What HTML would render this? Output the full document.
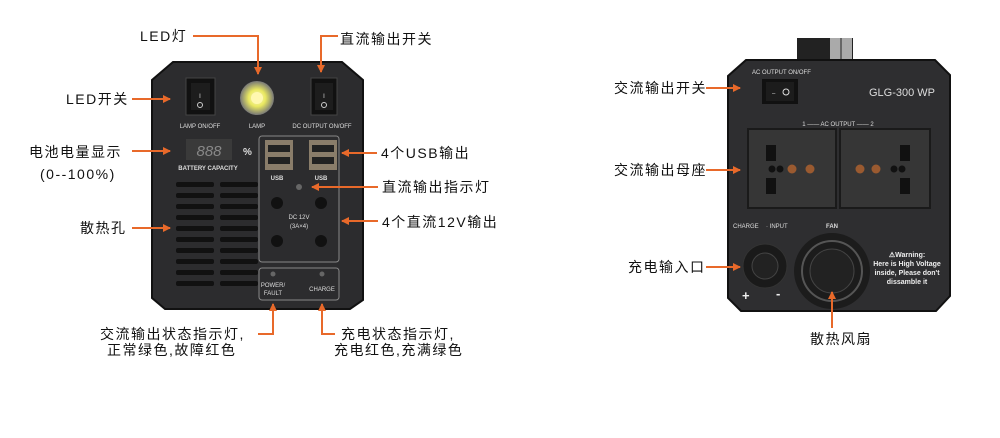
<!DOCTYPE html>
<html><head><meta charset="utf-8"><style>
html,body{margin:0;padding:0;background:#fff;width:1000px;height:438px;overflow:hidden}
svg{display:block}
.cn{font-family:"Liberation Sans","Noto Sans CJK SC",sans-serif;font-size:14px;fill:#111;letter-spacing:1.5px}
.w{font-family:"Liberation Sans",sans-serif;fill:#ddd;font-size:6px}
.ar{stroke:#e8692a;stroke-width:2;fill:none}
</style></head><body>
<svg width="1000" height="438" viewBox="0 0 1000 438" xmlns="http://www.w3.org/2000/svg">
<defs>
<marker id="a" markerWidth="8" markerHeight="8" refX="7" refY="4" orient="auto" markerUnits="userSpaceOnUse"><path d="M0,0 L8,4 L0,8 z" fill="#e8692a"/></marker>
<radialGradient id="lamp"><stop offset="0" stop-color="#fffbd0"/><stop offset="0.5" stop-color="#e9e860"/><stop offset="1" stop-color="#777"/></radialGradient>
</defs>

<!-- LEFT DEVICE -->
<path d="M173,62 L342,62 L363,80 L363,300 L350,309 L165,309 L152,298 L152,80 Z" fill="#2c2c2e" stroke="#111" stroke-width="2"/>
<rect x="186" y="78" width="29" height="37" fill="#111" stroke="#444"/>
<rect x="191" y="83" width="19" height="27" fill="#1d1d1d"/>
<text x="200" y="98" class="w" text-anchor="middle" font-size="7">I</text><circle cx="200" cy="105" r="2.5" fill="none" stroke="#ccc"/>
<circle cx="257" cy="98" r="17" fill="url(#lamp)"/>
<circle cx="257" cy="98" r="6" fill="#fff8b0"/>
<rect x="311" y="78" width="26" height="37" fill="#111" stroke="#444"/>
<rect x="315" y="83" width="18" height="27" fill="#1d1d1d"/>
<text x="324" y="98" class="w" text-anchor="middle" font-size="7">I</text><circle cx="324" cy="105" r="2.5" fill="none" stroke="#ccc"/>
<text x="200" y="128" class="w" text-anchor="middle">LAMP ON/OFF</text>
<text x="257" y="128" class="w" text-anchor="middle">LAMP</text>
<text x="322" y="128" class="w" text-anchor="middle">DC OUTPUT ON/OFF</text>
<rect x="186" y="139" width="46" height="21" fill="#3a3a3a"/>
<text x="209" y="156" font-family="Liberation Sans,sans-serif" font-size="15" fill="#888" text-anchor="middle" font-style="italic">888</text>
<text x="243" y="155" font-family="Liberation Sans,sans-serif" font-size="10" fill="#ddd" font-weight="bold">%</text>
<text x="208" y="170" class="w" text-anchor="middle" font-size="6.5" font-weight="bold">BATTERY CAPACITY</text>
<g fill="#111">
<rect x="176" y="182" width="38" height="5" rx="2"/><rect x="220" y="182" width="38" height="5" rx="2"/>
<rect x="176" y="193" width="38" height="5" rx="2"/><rect x="220" y="193" width="38" height="5" rx="2"/>
<rect x="176" y="204" width="38" height="5" rx="2"/><rect x="220" y="204" width="38" height="5" rx="2"/>
<rect x="176" y="215" width="38" height="5" rx="2"/><rect x="220" y="215" width="38" height="5" rx="2"/>
<rect x="176" y="226" width="38" height="5" rx="2"/><rect x="220" y="226" width="38" height="5" rx="2"/>
<rect x="176" y="237" width="38" height="5" rx="2"/><rect x="220" y="237" width="38" height="5" rx="2"/>
<rect x="176" y="248" width="38" height="5" rx="2"/><rect x="220" y="248" width="38" height="5" rx="2"/>
<rect x="176" y="259" width="38" height="5" rx="2"/><rect x="220" y="259" width="38" height="5" rx="2"/>
<rect x="176" y="270" width="38" height="5" rx="2"/><rect x="220" y="270" width="38" height="5" rx="2"/>
<rect x="176" y="281" width="38" height="5" rx="2"/><rect x="220" y="281" width="38" height="5" rx="2"/>
</g>
<rect x="259" y="136" width="80" height="126" rx="3" fill="none" stroke="#888" stroke-width="1"/>
<rect x="265" y="140" width="28" height="30" fill="#8a7d6a"/><rect x="268" y="145" width="22" height="7" fill="#222"/><rect x="268" y="157" width="22" height="7" fill="#222"/>
<rect x="309" y="140" width="28" height="30" fill="#8a7d6a"/><rect x="312" y="145" width="22" height="7" fill="#222"/><rect x="312" y="157" width="22" height="7" fill="#222"/>
<text x="277" y="180" class="w" text-anchor="middle" font-weight="bold">USB</text>
<text x="321" y="180" class="w" text-anchor="middle" font-weight="bold">USB</text>
<circle cx="299" cy="187" r="3" fill="#666"/>
<g fill="#111"><circle cx="277" cy="203" r="6"/><circle cx="321" cy="203" r="6"/><circle cx="277" cy="241" r="6"/><circle cx="321" cy="241" r="6"/></g>
<text x="299" y="219" class="w" text-anchor="middle">DC 12V</text>
<text x="299" y="228" class="w" text-anchor="middle">(3A×4)</text>
<rect x="259" y="268" width="80" height="32" rx="3" fill="none" stroke="#888"/>
<circle cx="273" cy="274" r="2.5" fill="#666"/><circle cx="322" cy="274" r="2.5" fill="#666"/>
<text x="273" y="287" class="w" text-anchor="middle">POWER/</text><text x="273" y="295" class="w" text-anchor="middle">FAULT</text>
<text x="322" y="291" class="w" text-anchor="middle">CHARGE</text>

<!-- left labels -->
<text x="140" y="41" class="cn">LED灯</text>
<path class="ar" d="M193,36 L258,36 L258,74" marker-end="url(#a)"/>
<text x="340" y="44" class="cn">直流输出开关</text>
<path class="ar" d="M338,36 L321,36 L321,72" marker-end="url(#a)"/>
<text x="66" y="104" class="cn">LED开关</text>
<path class="ar" d="M132,99 L170,99" marker-end="url(#a)"/>
<text x="29" y="157" class="cn">电池电量显示</text>
<text x="40" y="179" class="cn">(0--100%)</text>
<path class="ar" d="M132,151 L170,151" marker-end="url(#a)"/>
<text x="80" y="233" class="cn">散热孔</text>
<path class="ar" d="M132,228 L170,228" marker-end="url(#a)"/>
<text x="381" y="158" class="cn">4个USB输出</text>
<path class="ar" d="M377,153 L342,153" marker-end="url(#a)"/>
<text x="382" y="192" class="cn">直流输出指示灯</text>
<path class="ar" d="M378,187 L312,187" marker-end="url(#a)"/>
<text x="382" y="227" class="cn">4个直流12V输出</text>
<path class="ar" d="M378,221 L342,221" marker-end="url(#a)"/>
<text x="100" y="339" class="cn">交流输出状态指示灯,</text>
<text x="107" y="355" class="cn">正常绿色,故障红色</text>
<path class="ar" d="M258,334 L273,334 L273,304" marker-end="url(#a)"/>
<text x="341" y="339" class="cn">充电状态指示灯,</text>
<text x="334" y="355" class="cn">充电红色,充满绿色</text>
<path class="ar" d="M335,334 L322,334 L322,304" marker-end="url(#a)"/>

<!-- RIGHT DEVICE -->
<rect x="797" y="38" width="56" height="24" fill="#222"/>
<rect x="830" y="38" width="22" height="22" fill="#aaa"/><rect x="840" y="38" width="2" height="22" fill="#666"/>
<path d="M746,60 L935,60 L950,75 L950,296 L936,311 L741,311 L728,298 L728,76 Z" fill="#2e2e30" stroke="#111" stroke-width="2"/>
<text x="752" y="74" class="w" font-size="5.5">AC OUTPUT ON/OFF</text>
<rect x="762" y="79" width="36" height="25" fill="#111"/>
<rect x="766" y="82" width="28" height="19" fill="#1c1c1c"/>
<text x="772" y="95" class="w" font-size="8">–</text><circle cx="786" cy="92" r="3" fill="none" stroke="#ddd"/>
<text x="902" y="96" font-family="Liberation Sans,sans-serif" font-size="11" fill="#ddd" text-anchor="middle">GLG-300 WP</text>
<text x="838" y="126" class="w" text-anchor="middle">1 —— AC OUTPUT —— 2</text>
<rect x="748" y="129" width="88" height="79" fill="#363636" stroke="#1a1a1a" stroke-width="2"/>
<rect x="840" y="129" width="90" height="79" fill="#363636" stroke="#1a1a1a" stroke-width="2"/>
<g fill="#111">
<rect x="766" y="145" width="10" height="16"/><rect x="766" y="178" width="10" height="16"/>
<rect x="900" y="145" width="10" height="16"/><rect x="900" y="178" width="10" height="16"/>
<circle cx="772" cy="169" r="3.5"/><circle cx="780" cy="169" r="3.5"/><circle cx="902" cy="169" r="3.5"/><circle cx="894" cy="169" r="3.5"/>
</g>
<g fill="#9a5a30"><circle cx="792" cy="169" r="4.5"/><circle cx="810" cy="169" r="4.5"/><circle cx="860" cy="169" r="4.5"/><circle cx="876" cy="169" r="4.5"/></g>
<text x="733" y="228" class="w" font-size="5">CHARGE</text><text x="766" y="228" class="w" font-size="5">· INPUT</text>
<circle cx="765" cy="266" r="22" fill="#1a1a1a" stroke="#333"/>
<circle cx="765" cy="266" r="13" fill="#222" stroke="#444"/>
<text x="742" y="300" font-family="Liberation Sans,sans-serif" font-size="13" fill="#eee" font-weight="bold">+</text>
<text x="776" y="298" font-family="Liberation Sans,sans-serif" font-size="13" fill="#eee" font-weight="bold">-</text>
<text x="832" y="228" class="w" text-anchor="middle" font-weight="bold" font-size="7">FAN</text>
<circle cx="832" cy="271" r="38" fill="#1c1c1c"/>
<circle cx="832" cy="271" r="30" fill="none" stroke="#555" stroke-width="2"/>
<circle cx="832" cy="271" r="22" fill="#222" stroke="#444"/>
<g font-family="Liberation Sans,sans-serif" font-size="7" fill="#eee" text-anchor="middle" font-weight="bold">
<text x="907" y="257">⚠Warning:</text><text x="907" y="266">Here is High Voltage</text><text x="907" y="275">inside, Please don't</text><text x="907" y="284">dissamble it</text></g>

<!-- right labels -->
<text x="614" y="93" class="cn">交流输出开关</text>
<path class="ar" d="M706,88 L740,88" marker-end="url(#a)"/>
<text x="614" y="175" class="cn">交流输出母座</text>
<path class="ar" d="M706,170 L740,170" marker-end="url(#a)"/>
<text x="628" y="272" class="cn">充电输入口</text>
<path class="ar" d="M706,267 L740,267" marker-end="url(#a)"/>
<text x="810" y="344" class="cn">散热风扇</text>
<path class="ar" d="M832,328 L832,292" marker-end="url(#a)"/>
</svg>
</body></html>
